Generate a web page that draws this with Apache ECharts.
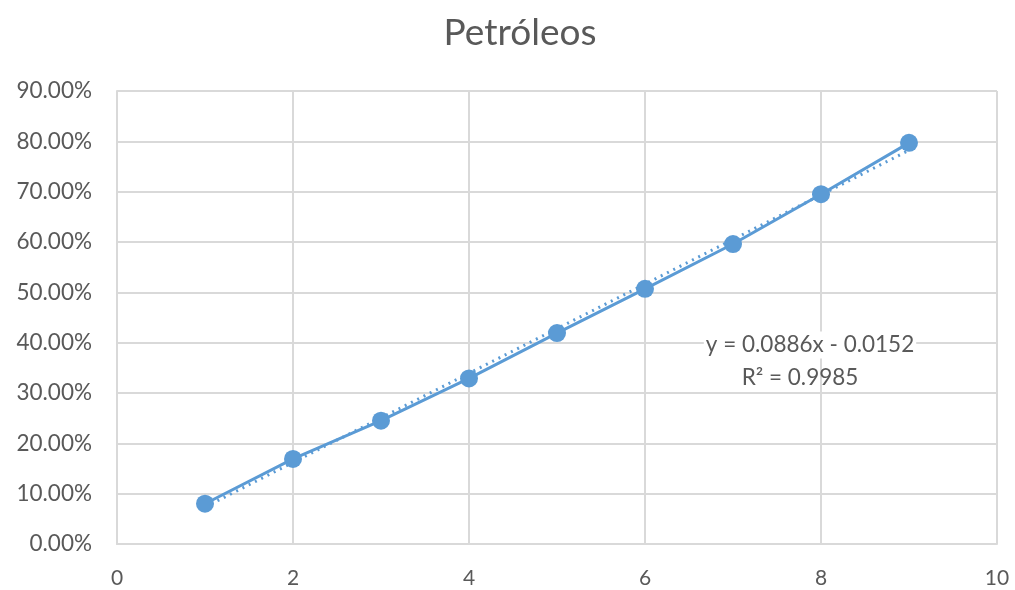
<!DOCTYPE html>
<html>
<head>
<meta charset="utf-8">
<script src="https://cdn.jsdelivr.net/npm/echarts@6/dist/echarts.min.js"></script>
<style>
  html, body { margin: 0; padding: 0; background: #fff; }
  #chart { width: 1015px; height: 590px; }
</style>
</head>
<body>
<div id="chart"></div>
<script>
// Petróleos: cumulative share by period
const xValues = [1, 2, 3, 4, 5, 6, 7, 8, 9];
const yValues = [0.080, 0.169, 0.245, 0.329, 0.419, 0.507, 0.596, 0.695, 0.797];

// Linear trendline as reported: y = slope*x + intercept
const trendSlope = 0.0886;
const trendIntercept = -0.0152;
const trendR2 = 0.9985;
const trendX = [1, 9];

const points = xValues.map((x, i) => [x, yValues[i]]);
const trendPoints = trendX.map(x => [x, trendSlope * x + trendIntercept]);

const textColor = '#595959';
const gridColor = '#d9d9d9';
const blue = '#5b9bd5';
const font = 'Lato, "Open Sans", sans-serif';

const chart = echarts.init(document.getElementById('chart'));
chart.setOption({
  animation: false,
  backgroundColor: '#fff',
  graphic: [
    {
      type: 'text',
      x: 520, y: 33,
      style: {
        text: 'Petróleos',
        fill: textColor, font: '37px ' + font,
        align: 'center', verticalAlign: 'middle'
      }
    },
    {
      type: 'text',
      x: 810, y: 345,
      z: 10,
      style: {
        text: 'y = 0.0886x - 0.0152',
        fill: textColor, font: '22.5px ' + font,
        align: 'center', verticalAlign: 'middle',
        backgroundColor: '#fff', padding: [2, 2]
      }
    },
    {
      type: 'text',
      x: 800, y: 378,
      z: 10,
      style: {
        text: 'R² = ' + trendR2.toFixed(4),
        fill: textColor, font: '22.5px ' + font,
        align: 'center', verticalAlign: 'middle'
      }
    }
  ],
  grid: { left: 117, right: 18, top: 91, bottom: 46, containLabel: false },
  xAxis: {
    type: 'value',
    min: 0, max: 10, interval: 2,
    axisLine: { show: true, lineStyle: { color: gridColor, width: 2 } },
    axisTick: { show: false },
    splitLine: { show: true, lineStyle: { color: gridColor, width: 2 } },
    axisLabel: { color: textColor, fontFamily: font, fontSize: 21, margin: 24 }
  },
  yAxis: {
    type: 'value',
    min: 0, max: 0.9, interval: 0.1,
    axisLine: { show: true, lineStyle: { color: gridColor, width: 2 } },
    axisTick: { show: false },
    splitLine: { show: true, lineStyle: { color: gridColor, width: 2 } },
    axisLabel: {
      color: textColor, fontFamily: font, fontSize: 22.5, margin: 25,
      formatter: v => (v * 100).toFixed(2) + '%'
    }
  },
  series: [
    {
      type: 'line',
      data: trendPoints,
      showSymbol: false,
      symbol: 'none',
      lineStyle: { color: blue, width: 3, type: [2, 5] },
      z: 2
    },
    {
      type: 'line',
      data: points,
      symbol: 'circle',
      symbolSize: 18,
      itemStyle: { color: blue },
      lineStyle: { color: blue, width: 3 },
      z: 3
    }
  ]
});
</script>
</body>
</html>
